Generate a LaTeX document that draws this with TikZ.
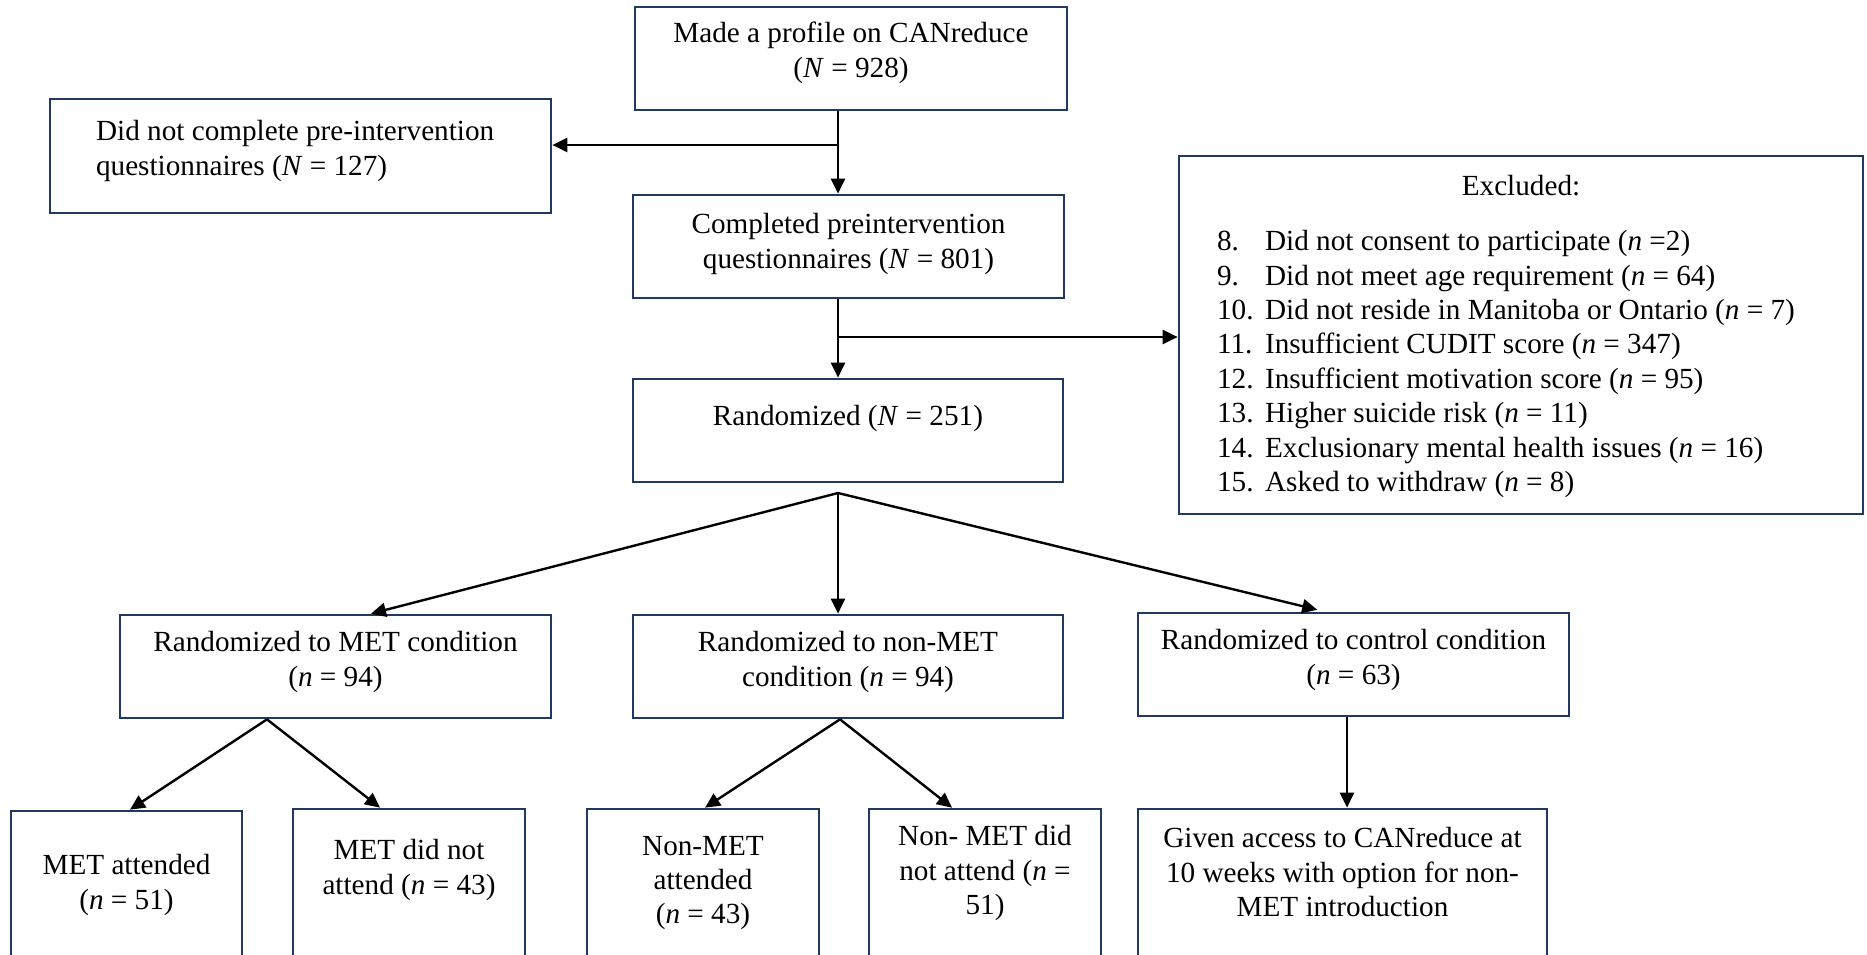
\documentclass[tikz,border=0pt]{standalone}
\usepackage{tikz}
\usepackage{fontspec}
\setmainfont{Liberation Serif}
\usetikzlibrary{positioning}
\usetikzlibrary{arrows.meta,calc,fit}
\definecolor{boxline}{RGB}{32,56,100}
\newcommand\flowbox[7]{
	\node[box, fit={(#2,#3) (#4,#5)}] (#1) {};
	\node[align=center] (#1-txt) at ({(#2+#4)/2}, #6) {#7};
 }
\newcommand\exitem[2]{\makebox[24pt][l]{#1}#2}

\begin{document}
\begin{tikzpicture}[x=0.5pt,y=-0.5pt,
		font=\fontsize{14.6}{17.2}\selectfont,
		box/.style={draw=boxline, line width=1.35pt, inner sep=0pt},
		arr/.style={-{Triangle[length=7.5pt,width=7pt]}, line width=1.2pt}]
		\useasboundingbox (0,0) rectangle (1867,954);
		%\draw[help lines] (0,0) grid[step=100] (1867,954);
		\flowbox{made}{635}{7}{1067}{110}{53}{Made a profile on CANreduce\\(\textit{N} = 928)}
		\node[box, fit={(50,99) (551,213)}] (nocomp) {};
		\node[align=left, anchor=west] (nocomp-txt) at (89,151) {Did not complete pre-intervention\\questionnaires (\textit{N} = 127)};
		\flowbox{compl}{633}{195}{1064}{298}{244}{Completed preintervention\\questionnaires (\textit{N} = 801)}
		\flowbox{rand}{633}{379}{1063}{482}{418}{Randomized (\textit{N} = 251)}
		\node[box, fit={(1179,156) (1863,514)}] (excl) {};
		\node (excl-title) at (1521,186) {Excluded:};
		\node[align=left, anchor=west] (excl-list) at (1210,364) {%
			\exitem{8.}{Did not consent to participate (\textit{n} =2)}\\
			\exitem{9.}{Did not meet age requirement (\textit{n} = 64)}\\
			\exitem{10.}{Did not reside in Manitoba or Ontario (\textit{n} = 7)}\\
			\exitem{11.}{Insufficient CUDIT score (\textit{n} = 347)}\\
			\exitem{12.}{Insufficient motivation score (\textit{n} = 95)}\\
			\exitem{13.}{Higher suicide risk (\textit{n} = 11)}\\
			\exitem{14.}{Exclusionary mental health issues (\textit{n} = 16)}\\
			\exitem{15.}{Asked to withdraw (\textit{n} = 8)}};
		\flowbox{metc}{120}{615}{551}{718}{662}{Randomized to MET condition\\(\textit{n} = 94)}
		\flowbox{nonmetc}{633}{615}{1063}{718}{662}{Randomized to non-MET\\condition (\textit{n} = 94)}
		\flowbox{ctrl}{1138}{613}{1569}{716}{660}{Randomized to control condition\\(\textit{n} = 63)}
		\flowbox{metatt}{11}{811}{242}{964}{885}{MET attended\\(\textit{n} = 51)}
		\flowbox{metno}{293}{809}{525}{964}{870}{MET did not\\attend (\textit{n} = 43)}
		\flowbox{nonatt}{587}{809}{819}{964}{883}{Non-MET\\attended\\(\textit{n} = 43)}
		\flowbox{nonno}{869}{809}{1101}{964}{873}{Non- MET did\\not attend (\textit{n} =\\51)}
		\flowbox{access}{1138}{809}{1547}{964}{872}{Given access to CANreduce at\\10 weeks with option for non-\\MET introduction}
		\coordinate (j1) at (838,145);
		\coordinate (j2) at (838,337);
		\coordinate (fan) at (838,493);
		\draw[arr] (made.south -| j1) -- (compl.north -| j1);
		\draw[arr] (j1) -- (nocomp.east |- j1);
		\draw[arr] (compl.south -| j2) -- (rand.north -| j2);
		\draw[arr] (j2) -- (excl.west |- j2);
		\draw[arr] (fan) -- (371,0 |- metc.north);
		\draw[arr] (fan) -- (nonmetc.north -| fan);
		\draw[arr, shorten >=4pt] (fan) -- (1325,0 |- ctrl.north);
		\draw[arr] (267,0 |- metc.south) -- (130,0 |- metatt.north);
		\draw[arr] (267,0 |- metc.south) -- (380,0 |- metno.north);
		\draw[arr] (840,0 |- nonmetc.south) -- (705,0 |- nonatt.north);
		\draw[arr] (840,0 |- nonmetc.south) -- (952,0 |- nonno.north);
		\draw[arr] (1347,0 |- ctrl.south) -- (1347,0 |- access.north);
	\end{tikzpicture}
\end{document}
